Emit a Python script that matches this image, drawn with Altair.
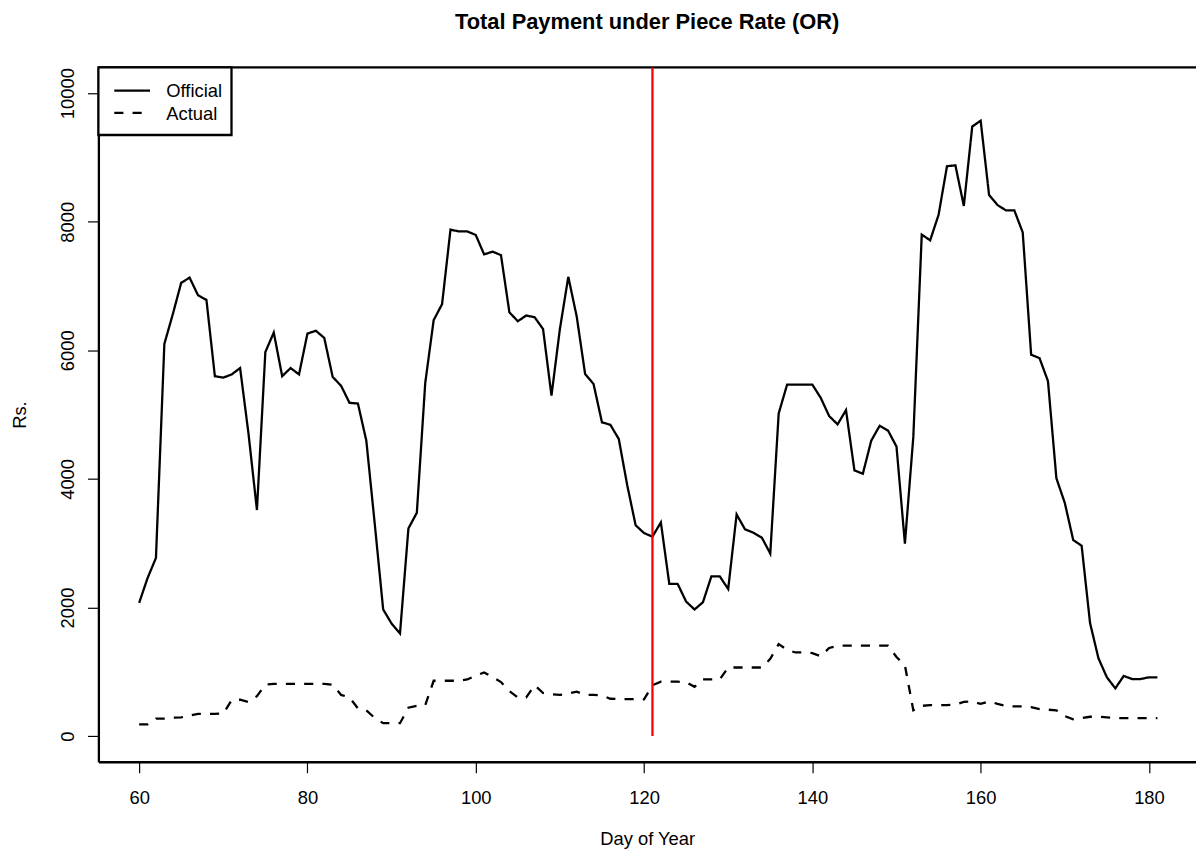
import altair as alt
import pandas as pd

days = list(range(60, 182))

official = [
    2070, 2456, 2771, 6100, 6560, 7050, 7130, 6856, 6784, 5597,
    5575, 5625, 5724, 4700, 3516, 5973, 6276, 5597, 5724, 5625,
    6260, 6304, 6193, 5586, 5448, 5183, 5172, 4593, 3300, 1970,
    1750, 1595, 3229, 3472, 5492, 6469, 6718, 7877, 7849, 7849,
    7794, 7491, 7535, 7480, 6591, 6453, 6541, 6514, 6331, 5294,
    6331, 7143, 6525, 5630, 5476, 4880, 4841, 4620, 3903, 3279,
    3157, 3102, 3323, 2368, 2365, 2092, 1968, 2082, 2483, 2483,
    2287, 3447, 3215, 3163, 3086, 2839, 5018, 5466, 5466, 5466,
    5466, 5260, 4977, 4848, 5070, 4132, 4080, 4595, 4827, 4750,
    4503, 2994, 4657, 7800, 7710, 8108, 8864, 8877, 8246, 9481,
    9571, 8417, 8260, 8177, 8177, 7834, 5932, 5877, 5520, 4010,
    3626, 3049, 2960, 1758, 1209, 914, 742, 935, 887, 887,
    914, 914,
]

actual = [
    180, 180, 270, 270, 285, 290, 320, 345, 345, 345,
    350, 560, 565, 530, 620, 800, 810, 810, 810, 810,
    810, 810, 810, 800, 640, 600, 430, 400, 280, 200,
    200, 200, 440, 470, 480, 860, 860, 860, 860, 880,
    940, 990, 920, 840, 700, 600, 600, 790, 670, 650,
    640, 660, 690, 640, 640, 630, 580, 575, 575, 575,
    570, 790, 845, 845, 845, 840, 765, 880, 880, 880,
    1066, 1066, 1066, 1066, 1066, 1200, 1430, 1340, 1300, 1300,
    1290, 1240, 1370, 1405, 1405, 1405, 1405, 1405, 1405, 1405,
    1230, 1100, 400, 470, 480, 480, 480, 490, 530, 540,
    500, 540, 500, 470, 460, 460, 450, 420, 410, 400,
    310, 260, 280, 300, 300, 290, 280, 280, 280, 280,
    280, 280,
]

series_names = ["Official", "Actual"]
x_ticks = [60, 80, 100, 120, 140, 160, 180]
y_ticks = [0, 2000, 4000, 6000, 8000, 10000]
policy_day = [121]

rows = []
for d, v in zip(days, official):
    rows.append({"day": d, "value": v, "series": "Official"})
for d, v in zip(days, actual):
    rows.append({"day": d, "value": v, "series": "Actual"})
df = pd.DataFrame(rows)
red_df = pd.DataFrame({"day": policy_day})

W = 1105
H = 699
FONT = "Liberation Sans"
FS = 18.5
LW = 2.3
DASH = [9.2, 9.2]

xscale = alt.Scale(domain=[55.16, 55.16 + W / 8.472], nice=False, zero=False)
yscale = alt.Scale(domain=[-400, 10400], nice=False, zero=False)

lines = alt.Chart(df).mark_line(color="black", strokeWidth=LW, strokeCap="butt").encode(
    x=alt.X("day:Q", scale=xscale,
            axis=alt.Axis(values=x_ticks, title="Day of Year", grid=False,
                          tickSize=11, tickColor="black", tickWidth=1.2,
                          domainColor="black", domainWidth=LW,
                          labelFont=FONT, labelFontSize=FS, labelColor="black",
                          labelPadding=16, labelFlush=False,
                          titleFont=FONT, titleFontSize=FS, titleFontWeight="normal",
                          titleColor="black", titleY=83, titleBaseline="alphabetic")),
    y=alt.Y("value:Q", scale=yscale,
            axis=alt.Axis(values=y_ticks, title="Rs.", grid=False, format="d",
                          tickSize=11, tickColor="black", tickWidth=1.2,
                          domainColor="black", domainWidth=LW,
                          labelFont=FONT, labelFontSize=FS, labelColor="black",
                          labelAngle=270, labelAlign="center", labelBaseline="middle",
                          labelPadding=20, labelFlush=False,
                          titleFont=FONT, titleFontSize=FS, titleFontWeight="normal",
                          titleColor="black", titleAngle=270, titleX=-79,
                          titleY=H / 2, titleAlign="center", titleBaseline="middle")),
    strokeDash=alt.StrokeDash(
        "series:N",
        scale=alt.Scale(domain=series_names, range=[[1, 0], DASH]),
        legend=None,
    ),
    detail="series:N",
)

top_line = alt.Chart(red_df).mark_rule(color="black", strokeWidth=LW).encode(
    x=alt.value(0), x2=alt.value(W), y=alt.value(0)
)

red = alt.Chart(red_df).mark_rule(color="#ff0000", strokeWidth=LW).encode(
    x=alt.X("day:Q", scale=xscale),
    y=alt.datum(0),
    y2=alt.value(0),
)

# legend (drawn as a boxed key in the top-left corner, like R's legend("topleft"))
leg_df = pd.DataFrame({"series": series_names})
leg_box = alt.Chart(leg_df.head(1)).mark_rect(
    fill="white", stroke="black", strokeWidth=LW
).encode(x=alt.value(0), x2=alt.value(134), y=alt.value(0), y2=alt.value(68))

leg_solid = alt.Chart(leg_df.head(1)).mark_rule(color="black", strokeWidth=LW, strokeCap="butt").encode(
    x=alt.value(16), x2=alt.value(52), y=alt.value(23.3)
)
leg_dash = alt.Chart(leg_df.head(1)).mark_rule(
    color="black", strokeWidth=LW, strokeCap="butt", strokeDash=DASH
).encode(x=alt.value(16), x2=alt.value(52), y=alt.value(45.8))

leg_t1 = alt.Chart(leg_df.head(1)).mark_text(
    font=FONT, fontSize=FS, align="left", baseline="middle", color="black"
).encode(x=alt.value(68.3), y=alt.value(23.6), text="series:N")
leg_t2 = alt.Chart(leg_df.tail(1)).mark_text(
    font=FONT, fontSize=FS, align="left", baseline="middle", color="black"
).encode(x=alt.value(68.3), y=alt.value(46.8), text="series:N")

chart = alt.layer(lines, top_line, red, leg_box, leg_solid, leg_dash, leg_t1, leg_t2).properties(
    width=W,
    height=H,
    autosize=alt.AutoSizeParams(type="none"),
    padding={"left": 91, "top": 57, "right": 0, "bottom": 87},
    title=alt.TitleParams(
        "Total Payment under Piece Rate (OR)",
        font=FONT, fontSize=22, fontWeight="bold", color="black",
        anchor="middle", offset=33,
    ),
).configure_view(stroke=None).configure(background="white")

chart.save("out.html", embed_options={"renderer": "svg", "actions": False})
